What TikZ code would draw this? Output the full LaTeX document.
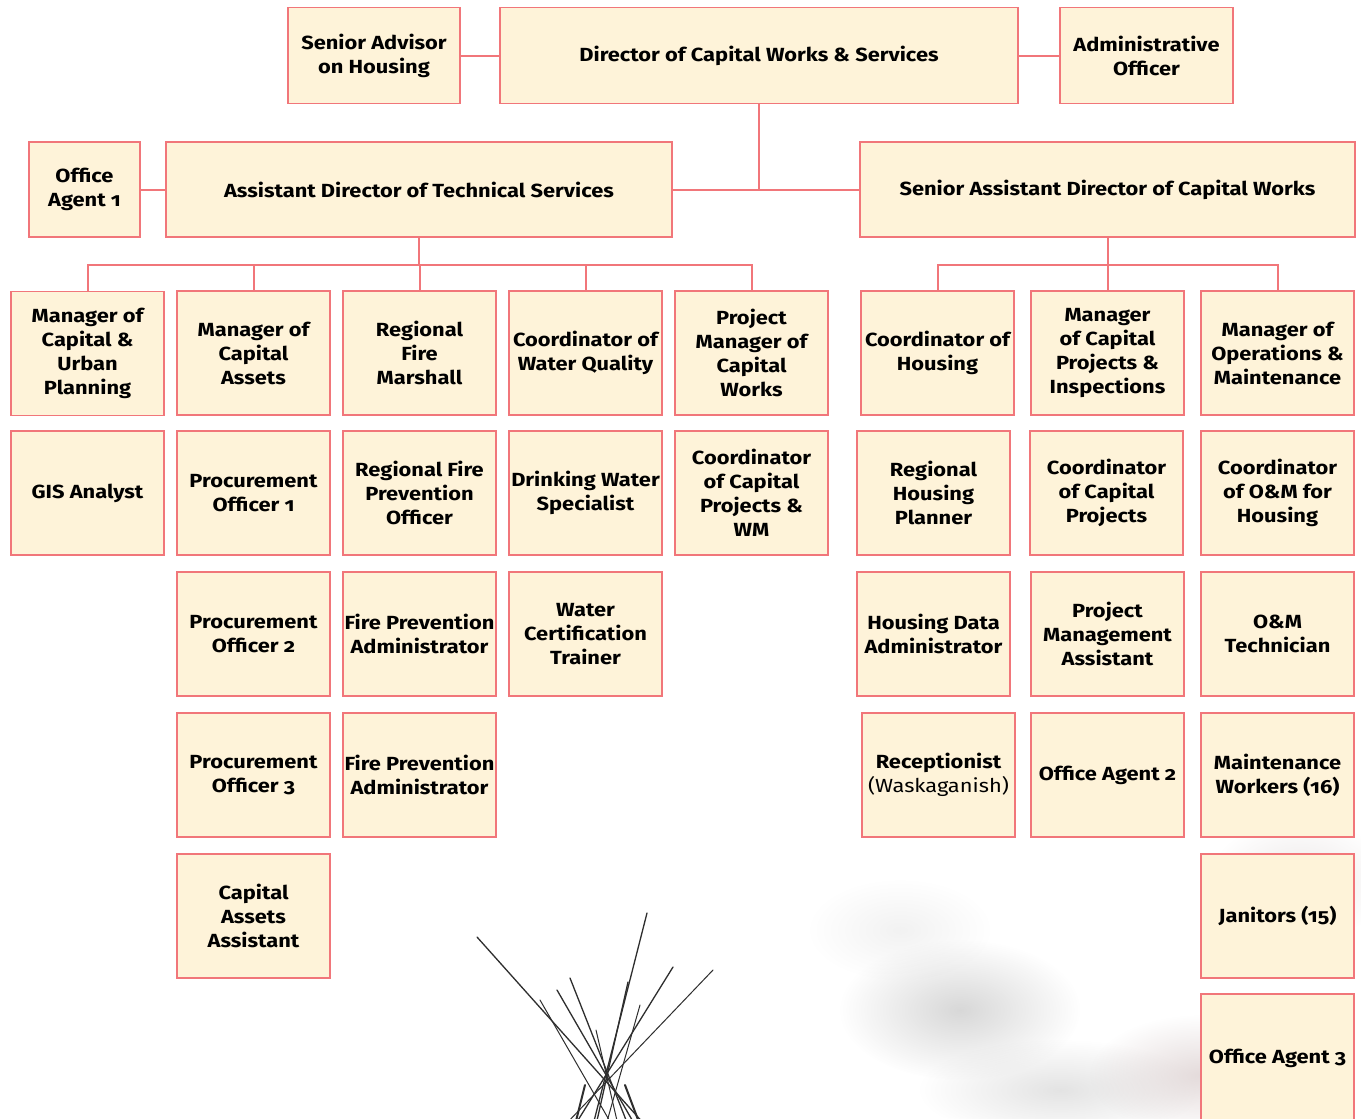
\documentclass[tikz,border=0pt]{standalone}
\usepackage{fontspec}
\setmainfont{Fira Sans}[Numbers=OldStyle, FakeStretch=1.15]
\usetikzlibrary{fadings}
\definecolor{boxfill}{HTML}{FEF3D9}
\definecolor{boxline}{HTML}{F1767A}
\definecolor{pole}{HTML}{2E2E2E}
\tikzfading[name=softedge, inner color=transparent!0, outer color=transparent!100]
\tikzset{
  orgbox/.style={draw=boxline, fill=boxfill, line width=1.7bp, rectangle,
    minimum width=153bp, minimum height=124bp, inner sep=0pt, align=center,
    font=\fontsize{19bp}{24bp}\selectfont\bfseries, text=black},
  wide/.style={orgbox, minimum height=95bp},
  link/.style={draw=boxline, line width=2bp},
  haze/.style={path fading=softedge},
  polestyle/.style={draw=pole, line width=1.3bp, line cap=round}
}
\begin{document}
\begin{tikzpicture}[x=1bp, y=-1bp]
\useasboundingbox (0,0) rectangle (1361,1118);
\clip (0,0) rectangle (1361,1118);
\fill[white] (0,0) rectangle (1361,1118);

% soft photographic backdrop
\fill[black!22, haze, opacity=0.7] (960,1010) ellipse (120 and 70);
\fill[black!18, haze, opacity=0.6] (1060,1090) ellipse (140 and 50);
\fill[red!25!black!20, haze, opacity=0.7] (1200,1075) ellipse (110 and 60);
\fill[red!20!black!15, haze, opacity=0.6] (1300,880) ellipse (90 and 60);
\fill[black!10, haze, opacity=0.5] (900,930) ellipse (90 and 50);

% tipi poles
\draw[polestyle] (477,937) -- (645,1125);
\draw[polestyle] (647,913) -- (593,1125);
\draw[polestyle] (673,967) -- (575,1125);
\draw[polestyle, line width=1bp] (713,970) -- (565,1125);
\draw[polestyle] (557,990) -- (635,1125);
\draw[polestyle] (570,978) -- (628,1125);
\draw[polestyle] (628,982) -- (596,1125);
\draw[polestyle, line width=1bp] (596,1030) -- (618,1125);
\draw[polestyle, line width=1bp] (640,1005) -- (606,1125);
\draw[polestyle, line width=1bp] (540,1000) -- (612,1125);
\draw[polestyle, line width=2bp] (585,1085) -- (575,1125);
\draw[polestyle, line width=2bp] (625,1085) -- (640,1125);

% top level
\node[wide, minimum width=172bp, minimum height=96bp] (sa) at (374,55.5) {Senior Advisor\\on Housing};
\node[wide, minimum width=518bp, minimum height=96bp] (dir) at (759,55.5) {Director of Capital Works \& Services};
\node[wide, minimum width=173bp, minimum height=96bp] (adm) at (1146.5,55.5) {Administrative\\Officer};

% second level
\node[wide, minimum width=111bp] (oa1) at (84.5,189.5) {Office\\Agent 1};
\node[wide, minimum width=506bp] (ad) at (419,189.5) {Assistant Director of Technical Services};
\node[wide, minimum width=495bp] (sad) at (1107.5,189.5) {Senior Assistant Director of Capital Works};

% technical services
\node[orgbox] (l11) at (87.5,353.5) {Manager of\\Capital \&\\Urban\\Planning};
\node[orgbox] (l21) at (253.5,353) {Manager of\\Capital\\Assets};
\node[orgbox] (l31) at (419.5,353) {Regional\\Fire\\Marshall};
\node[orgbox] (l41) at (585.5,353) {Coordinator of\\Water Quality};
\node[orgbox] (l51) at (751.5,353) {Project\\Manager of\\Capital\\Works};

\node[orgbox] (l12) at (87.5,493) {GIS Analyst};
\node[orgbox] (l22) at (253.5,493) {Procurement\\Officer 1};
\node[orgbox] (l32) at (419.5,493) {Regional Fire\\Prevention\\Officer};
\node[orgbox] (l42) at (585.5,493) {Drinking Water\\Specialist};
\node[orgbox] (l52) at (751.5,493) {Coordinator\\of Capital\\Projects \&\\WM};

\node[orgbox] (l23) at (253.5,634) {Procurement\\Officer 2};
\node[orgbox] (l33) at (419.5,634) {Fire Prevention\\Administrator};
\node[orgbox] (l43) at (585.5,634) {Water\\Certification\\Trainer};

\node[orgbox] (l24) at (253.5,775) {Procurement\\Officer 3};
\node[orgbox] (l34) at (419.5,775) {Fire Prevention\\Administrator};

\node[orgbox] (l25) at (253.5,916) {Capital\\Assets\\Assistant};

% capital works
\node[orgbox] (r11) at (937.5,353) {Coordinator of\\Housing};
\node[orgbox] (r21) at (1107.5,353) {Manager\\of Capital\\Projects \&\\Inspections};
\node[orgbox] (r31) at (1277.5,353) {Manager of\\Operations \&\\Maintenance};

\node[orgbox] (r12) at (933.5,493) {Regional\\Housing\\Planner};
\node[orgbox] (r22) at (1106.5,493) {Coordinator\\of Capital\\Projects};
\node[orgbox] (r32) at (1277.5,493) {Coordinator\\of O\&M for\\Housing};

\node[orgbox] (r13) at (933.5,634) {Housing Data\\Administrator};
\node[orgbox] (r23) at (1107.5,634) {Project\\Management\\Assistant};
\node[orgbox] (r33) at (1277.5,634) {O\&M\\Technician};

\node[orgbox] (r14) at (938.5,775) {Receptionist\\{\mdseries (Waskaganish)}};
\node[orgbox] (r24) at (1107.5,775) {Office Agent 2};
\node[orgbox] (r34) at (1277.5,775) {Maintenance\\Workers (16)};

\node[orgbox] (r35) at (1277.5,916) {Janitors (15)};
\node[orgbox, minimum height=128bp] (r36) at (1277.5,1058) {Office Agent 3};

% connectors
\draw[link] (sa.east) -- (dir.west);
\draw[link] (dir.east) -- (adm.west);
\draw[link] (oa1.east) -- (ad.west);
\draw[link] (ad.east) -- (sad.west);
\draw[link] (dir.south) -- (dir.south |- ad.east);

\coordinate (lbus) at (419,264.5);
\draw[link] (ad.south) -- (lbus);
\foreach \n in {l11,l21,l31,l41,l51} \draw[link] (lbus) -| (\n.north);

\coordinate (rbus) at (1107.5,264.5);
\draw[link] (sad.south) -- (rbus);
\foreach \n in {r11,r21,r31} \draw[link] (rbus) -| (\n.north);
\end{tikzpicture}
\end{document}
